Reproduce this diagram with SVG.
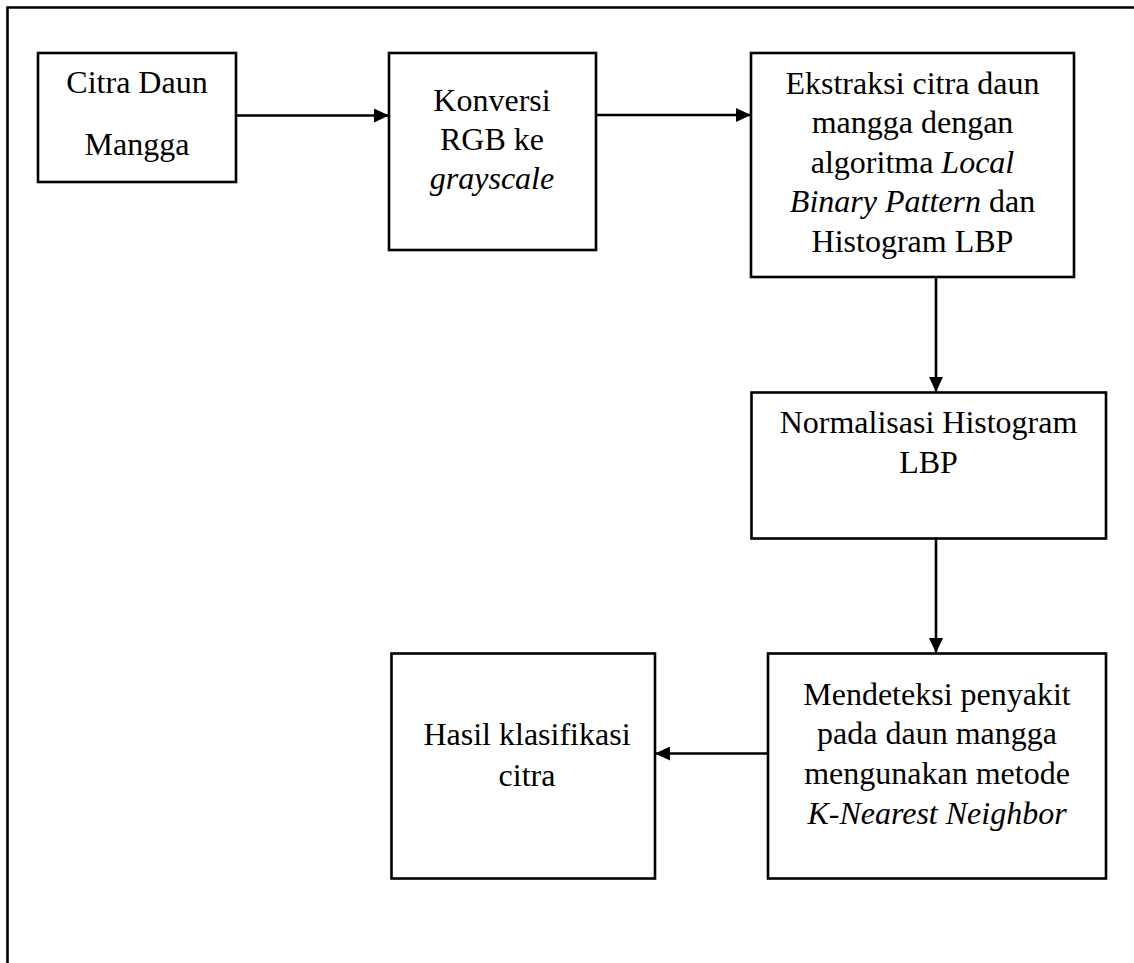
<svg xmlns="http://www.w3.org/2000/svg" width="1134" height="963" viewBox="0 0 1134 963">
<style>
.box{fill:#fff;stroke:#000;stroke-width:2.6}
.t{font-family:"Liberation Serif","Times New Roman",serif;font-size:32px;fill:#000;text-anchor:middle}
.i{font-style:italic}
.c{stroke:#000;stroke-width:2.6;fill:none}
</style>
<defs>
<marker id="ah" viewBox="0 0 15 14" refX="15" refY="7" markerWidth="15" markerHeight="14" markerUnits="userSpaceOnUse" orient="auto">
<path d="M0,0 L15,7 L0,14 Z" fill="#000"/>
</marker>
</defs>
<rect width="1134" height="963" fill="#fff"/>
<g id="frame">
<path d="M7.5,963 V7.5 H1134" class="c" stroke-width="2.8"/>
</g>
<g id="connectors">
<line x1="236" y1="115.5" x2="389" y2="115.5" class="c" marker-end="url(#ah)"/>
<line x1="596" y1="115" x2="751" y2="115" class="c" marker-end="url(#ah)"/>
<line x1="936" y1="277" x2="936" y2="392" class="c" marker-end="url(#ah)"/>
<line x1="936" y1="539" x2="936" y2="653" class="c" marker-end="url(#ah)"/>
<line x1="768" y1="753.5" x2="655" y2="753.5" class="c" marker-end="url(#ah)"/>
</g>
<g id="n1">
<rect x="38" y="53" width="198" height="129" class="box"/>
<text class="t" x="137" y="92.5">Citra Daun</text>
<text class="t" x="137" y="155">Mangga</text>
</g>
<g id="n2">
<rect x="389" y="53" width="207" height="197" class="box"/>
<text class="t" x="492" y="111">Konversi</text>
<text class="t" x="492" y="150">RGB ke</text>
<text class="t i" x="492" y="188.5">grayscale</text>
</g>
<g id="n3">
<rect x="751" y="53" width="323" height="224" class="box"/>
<text class="t" x="912.5" y="93.5">Ekstraksi citra daun</text>
<text class="t" x="912.5" y="133">mangga dengan</text>
<text class="t" x="912.5" y="172.5">algoritma <tspan class="i">Local</tspan></text>
<text class="t" x="912.5" y="212"><tspan class="i">Binary Pattern</tspan> dan</text>
<text class="t" x="912.5" y="251.5">Histogram LBP</text>
</g>
<g id="n4">
<rect x="751.5" y="392.5" width="354.5" height="146" class="box"/>
<text class="t" x="928.5" y="432.5">Normalisasi Histogram</text>
<text class="t" x="928.5" y="472.5">LBP</text>
</g>
<g id="n5">
<rect x="768" y="653.5" width="338" height="225" class="box"/>
<text class="t" x="937" y="705">Mendeteksi penyakit</text>
<text class="t" x="937" y="744">pada daun mangga</text>
<text class="t" x="937" y="784">mengunakan metode</text>
<text class="t i" x="937" y="823.5">K-Nearest Neighbor</text>
</g>
<g id="n6">
<rect x="391.5" y="653.5" width="263.5" height="225" class="box"/>
<text class="t" x="527" y="745">Hasil klasifikasi</text>
<text class="t" x="527" y="785.5">citra</text>
</g>
</svg>
